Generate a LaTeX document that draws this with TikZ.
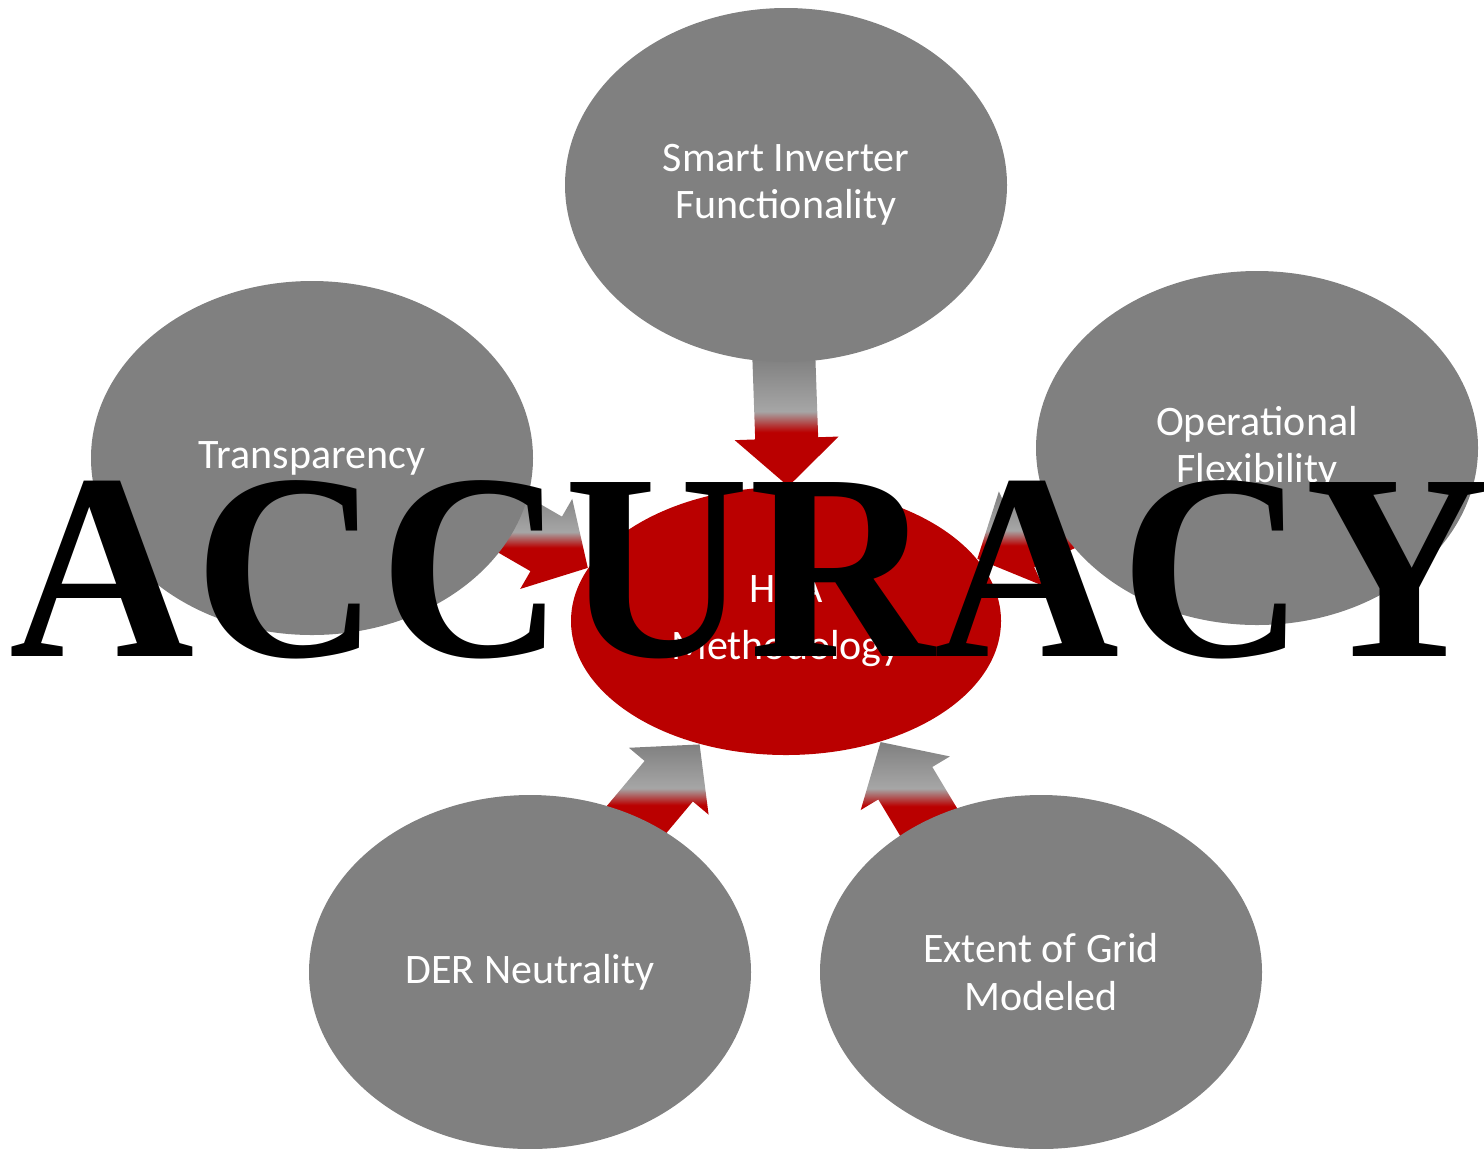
\documentclass[tikz,border=0pt]{standalone}
\usepackage{fontspec}
\setmainfont{Carlito}
\newfontfamily\bannerfont{Liberation Serif}
\usetikzlibrary{shapes.geometric,calc,backgrounds}

\definecolor{bubblegray}{RGB}{128,128,128}
\definecolor{fadegray}{RGB}{166,166,166}
\definecolor{hcared}{RGB}{186,0,0}

\pgfdeclareverticalshading{arrowfade}{100bp}{color(0bp)=(hcared); color(46bp)=(hcared); color(54bp)=(fadegray); color(75bp)=(bubblegray); color(100bp)=(bubblegray)}

\tikzset{
    bubble/.style={ellipse, fill=bubblegray, text=white, align=center,
        minimum width=4.42cm, minimum height=3.54cm, inner sep=0pt,
        font=\fontsize{11.95}{13.4}\selectfont},
    hub/.style={bubble, fill=hcared, minimum width=4.30cm, minimum height=2.68cm,
        font=\fontsize{11.95}{16.2}\selectfont}
}

% block arrow: tip, angle towards tail, length
\newcommand{\feedarrow}[3]{
    \path[shading=arrowfade]
        ($(#1)+(#2:#3)+(#2+90:0.315)$) -- ($(#1)+(#2:0.48)+(#2+90:0.315)$)
        -- ($(#1)+(#2:0.48)+(#2+90:0.52)$) -- (#1)
        -- ($(#1)+(#2:0.48)+(#2-90:0.52)$) -- ($(#1)+(#2:0.48)+(#2-90:0.315)$)
        -- ($(#1)+(#2:#3)+(#2-90:0.315)$) -- cycle;
}

\begin{document}
\begin{tikzpicture}
                \useasboundingbox (0,0) rectangle (14.84,-11.48);
                \node[hub] (hca) at (7.86,-6.21) {HCA\\Methodology};
                \node[bubble] (si) at (7.86,-1.85) {Smart Inverter\\Functionality};
                \node[bubble] (tr) at (3.12,-4.58) {Transparency};
                \node[bubble] (of) at (12.57,-4.48) {Operational\\Flexibility};
                \node[bubble] (der) at (5.30,-9.72) {DER Neutrality};
                \node[bubble] (eg) at (10.41,-9.72) {Extent of Grid\\Modeled};
                \begin{pgfonlayer}{background}
                    \feedarrow{hca.89}{92}{1.28}
                    \feedarrow{hca.165}{150}{1.00}
                    \feedarrow{hca.18}{25}{0.95}
                    \feedarrow{hca.235}{230}{1.10}
                    \feedarrow{hca.308}{301}{1.10}
                \end{pgfonlayer}
                \node[font=\bannerfont\bfseries\fontsize{75.6}{80}\selectfont, anchor=base,
                    xscale=0.965, transform shape] (banner) at (7.50,-6.56) {ACCURACY};
            \end{tikzpicture}
\end{document}
